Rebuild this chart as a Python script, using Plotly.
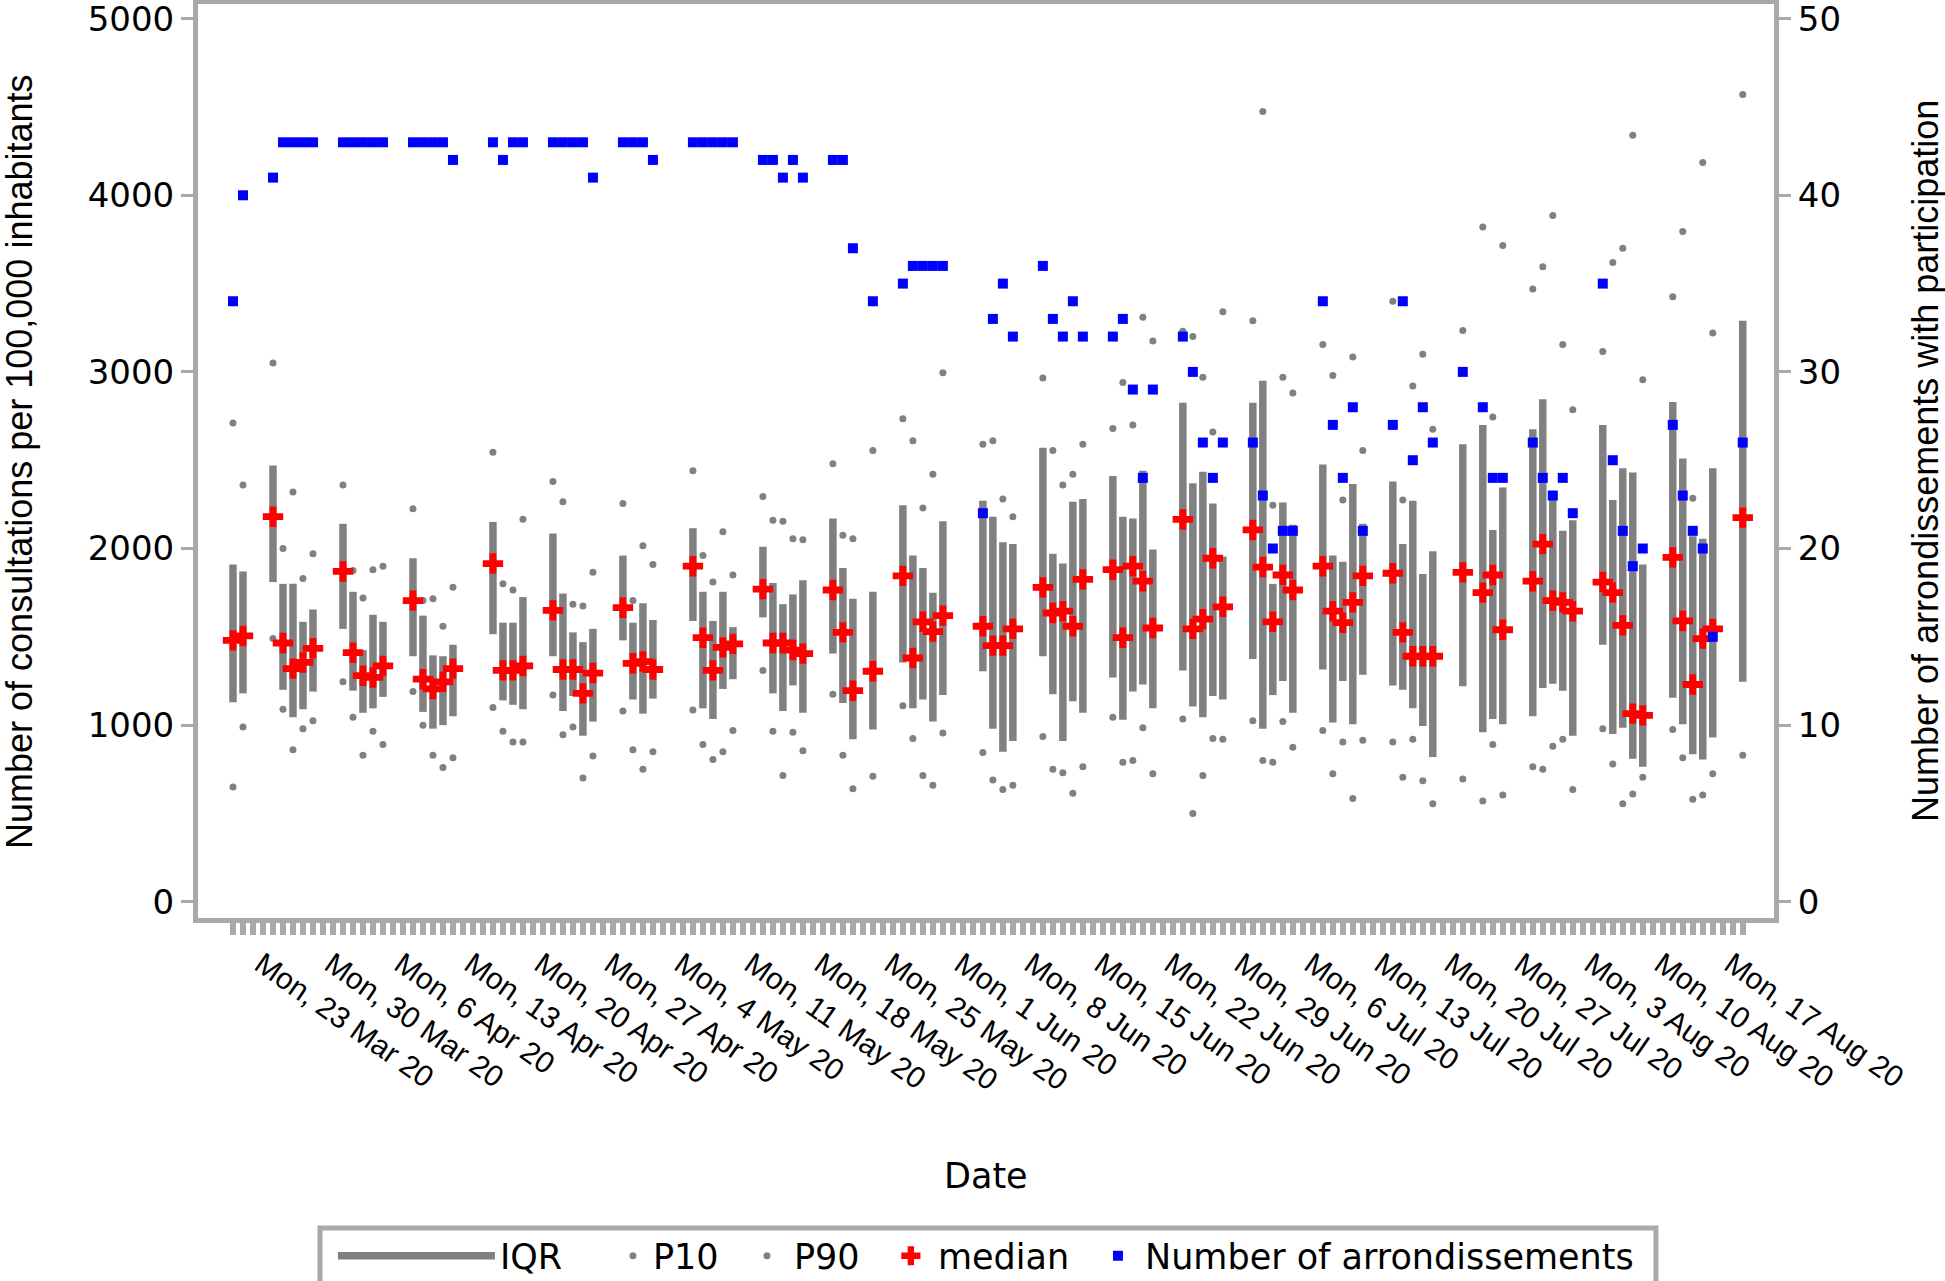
import plotly.graph_objects as go
import pandas as pd

# ---------------- data ----------------
dates = [
    "2020-03-19", "2020-03-20",
    "2020-03-23", "2020-03-24", "2020-03-25", "2020-03-26", "2020-03-27",
    "2020-03-30", "2020-03-31", "2020-04-01", "2020-04-02", "2020-04-03",
    "2020-04-06", "2020-04-07", "2020-04-08", "2020-04-09", "2020-04-10",
    "2020-04-14", "2020-04-15", "2020-04-16", "2020-04-17",
    "2020-04-20", "2020-04-21", "2020-04-22", "2020-04-23", "2020-04-24",
    "2020-04-27", "2020-04-28", "2020-04-29", "2020-04-30",
    "2020-05-04", "2020-05-05", "2020-05-06", "2020-05-07", "2020-05-08",
    "2020-05-11", "2020-05-12", "2020-05-13", "2020-05-14", "2020-05-15",
    "2020-05-18", "2020-05-19", "2020-05-20", "2020-05-22",
    "2020-05-25", "2020-05-26", "2020-05-27", "2020-05-28", "2020-05-29",
    "2020-06-02", "2020-06-03", "2020-06-04", "2020-06-05",
    "2020-06-08", "2020-06-09", "2020-06-10", "2020-06-11", "2020-06-12",
    "2020-06-15", "2020-06-16", "2020-06-17", "2020-06-18", "2020-06-19",
    "2020-06-22", "2020-06-23", "2020-06-24", "2020-06-25", "2020-06-26",
    "2020-06-29", "2020-06-30", "2020-07-01", "2020-07-02", "2020-07-03",
    "2020-07-06", "2020-07-07", "2020-07-08", "2020-07-09", "2020-07-10",
    "2020-07-13", "2020-07-14", "2020-07-15", "2020-07-16", "2020-07-17",
    "2020-07-20", "2020-07-22", "2020-07-23", "2020-07-24",
    "2020-07-27", "2020-07-28", "2020-07-29", "2020-07-30", "2020-07-31",
    "2020-08-03", "2020-08-04", "2020-08-05", "2020-08-06", "2020-08-07",
    "2020-08-10", "2020-08-11", "2020-08-12", "2020-08-13", "2020-08-14",
    "2020-08-17",
]

q1 = [1130, 1180,
      1810, 1200, 1045, 1090, 1190,
      1545, 1195, 1070, 1095, 1160,
      1390, 1075, 980, 1000, 1050,
      1515, 1140, 1115, 1090,
      1390, 1080, 1165, 940, 1020,
      1480, 1145, 1065, 1150,
      1590, 1095, 1035, 1205, 1260,
      1610, 1180, 1080, 1225, 1070,
      1405, 1125, 920, 975,
      1355, 1095, 1145, 1020, 1170,
      1305, 980, 850, 910,
      1390, 1175, 910, 1135, 1070,
      1270, 1030, 1190, 1230, 1095,
      1310, 1105, 1045, 1165, 1145,
      1375, 980, 1170, 1250, 1070,
      1315, 1015, 1250, 1005, 1285,
      1225, 1200, 1095, 995, 820,
      1220, 960, 1035, 1005,
      1050, 1210, 1235, 1195, 940,
      1455, 950, 985, 810, 765,
      1155, 1005, 835, 805, 930,
      1245]

q3 = [1910, 1870,
      2470, 1800, 1800, 1585, 1655,
      2140, 1755, 1425, 1625, 1585,
      1945, 1620, 1395, 1390, 1455,
      2150, 1580, 1580, 1725,
      2085, 1745, 1525, 1470, 1545,
      1960, 1580, 1690, 1595,
      2115, 1755, 1590, 1755, 1555,
      2010, 1805, 1685, 1740, 1820,
      2170, 1890, 1715, 1755,
      2245, 1960, 1890, 1750, 2155,
      2270, 2180, 2035, 2025,
      2570, 1970, 1915, 2265, 2280,
      2410, 2180, 2170, 2440, 1995,
      2825, 2370, 2435, 2255, 1955,
      2825, 2950, 1800, 2260, 2135,
      2475, 1960, 1925, 2365, 2140,
      2380, 2025, 2270, 1855, 1985,
      2590, 2700, 2105, 2345,
      2675, 2845, 2275, 2100, 2160,
      2700, 2275, 2455, 2430, 1910,
      2830, 2510, 2070, 2055, 2455,
      3290]

median = [1480, 1505,
          2180, 1465, 1320, 1355, 1435,
          1870, 1410, 1280, 1270, 1335,
          1705, 1260, 1205, 1245, 1320,
          1915, 1310, 1310, 1335,
          1650, 1315, 1315, 1180, 1295,
          1665, 1350, 1360, 1315,
          1900, 1495, 1310, 1440, 1460,
          1770, 1465, 1465, 1425, 1405,
          1765, 1525, 1195, 1305,
          1845, 1380, 1585, 1530, 1620,
          1560, 1450, 1450, 1545,
          1780, 1635, 1645, 1560, 1825,
          1880, 1495, 1900, 1815, 1550,
          2165, 1545, 1600, 1945, 1670,
          2105, 1895, 1585, 1850, 1765,
          1900, 1645, 1580, 1695, 1845,
          1860, 1525, 1390, 1390, 1390,
          1865, 1750, 1850, 1540,
          1815, 2025, 1705, 1695, 1645,
          1810, 1750, 1565, 1065, 1055,
          1950, 1590, 1230, 1490, 1545,
          2175]

p10 = [650, 990,
       1490, 1090, 860, 980, 1025,
       1245, 1045, 830, 965, 890,
       1190, 1000, 830, 760, 815,
       1100, 965, 905, 905,
       1170, 945, 990, 700, 825,
       1080, 860, 750, 850,
       1085, 890, 805, 850, 970,
       1310, 965, 715, 960, 855,
       1175, 830, 640, 710,
       1110, 925, 715, 660, 955,
       845, 690, 635, 660,
       935, 750, 730, 615, 765,
       1045, 790, 800, 985, 725,
       1035, 500, 715, 925, 920,
       1025, 800, 790, 1020, 875,
       970, 725, 905, 585, 915,
       905, 705, 920, 685, 555,
       695, 570, 890, 605,
       765, 750, 880, 920, 635,
       980, 780, 555, 610, 705,
       975, 815, 580, 605, 725,
       830]

p90 = [2710, 2360,
       3050, 2000, 2320, 1830, 1970,
       2360, 1875, 1720, 1880, 1900,
       2225, 1705, 1715, 1560, 1780,
       2545, 1800, 1765, 2165,
       2380, 2265, 1685, 1675, 1865,
       2255, 1705, 2015, 1910,
       2440, 1960, 1810, 2095, 1850,
       2295, 2160, 2155, 2055, 2050,
       2480, 2075, 2055, 2555,
       2735, 2610, 2230, 2420, 2995,
       2590, 2610, 2280, 2180,
       2965, 2555, 2360, 2420, 2590,
       2680, 2940, 2700, 3310, 3175,
       3230, 3200, 2970, 2660, 3340,
       3290, 4475, 2245, 2970, 2880,
       3155, 2980, 2275, 3085, 2555,
       3400, 2275, 2920, 3100, 2675,
       3235, 3820, 2745, 3715,
       3470, 3595, 3885, 3155, 2785,
       3115, 3620, 3700, 4340, 2955,
       3425, 3795, 2285, 4185, 3220,
       4570]

n_arrondissements = [34, 40,
                     41, 43, 43, 43, 43,
                     43, 43, 43, 43, 43,
                     43, 43, 43, 43, 42,
                     43, 42, 43, 43,
                     43, 43, 43, 43, 41,
                     43, 43, 43, 42,
                     43, 43, 43, 43, 43,
                     42, 42, 41, 42, 41,
                     42, 42, 37, 34,
                     35, 36, 36, 36, 36,
                     22, 33, 35, 32,
                     36, 33, 32, 34, 32,
                     32, 33, 29, 24, 29,
                     32, 30, 26, 24, 26,
                     26, 23, 20, 21, 21,
                     34, 27, 24, 28, 21,
                     27, 34, 25, 28, 26,
                     30, 28, 24, 24,
                     26, 24, 23, 24, 22,
                     35, 25, 21, 19, 20,
                     27, 23, 21, 20, 15,
                     26]

monday_dates = ["2020-03-23", "2020-03-30", "2020-04-06", "2020-04-13", "2020-04-20",
                "2020-04-27", "2020-05-04", "2020-05-11", "2020-05-18", "2020-05-25",
                "2020-06-01", "2020-06-08", "2020-06-15", "2020-06-22", "2020-06-29",
                "2020-07-06", "2020-07-13", "2020-07-20", "2020-07-27", "2020-08-03",
                "2020-08-10", "2020-08-17"]
monday_labels = ["Mon, 23 Mar 20", "Mon, 30 Mar 20", "Mon, 6 Apr 20", "Mon, 13 Apr 20",
                 "Mon, 20 Apr 20", "Mon, 27 Apr 20", "Mon, 4 May 20", "Mon, 11 May 20",
                 "Mon, 18 May 20", "Mon, 25 May 20", "Mon, 1 Jun 20", "Mon, 8 Jun 20",
                 "Mon, 15 Jun 20", "Mon, 22 Jun 20", "Mon, 29 Jun 20", "Mon, 6 Jul 20",
                 "Mon, 13 Jul 20", "Mon, 20 Jul 20", "Mon, 27 Jul 20", "Mon, 3 Aug 20",
                 "Mon, 10 Aug 20", "Mon, 17 Aug 20"]
left_ticks = [0, 1000, 2000, 3000, 4000, 5000]
right_ticks = [0, 10, 20, 30, 40, 50]

# ---------------- styles ----------------
GRAY = "#808080"
FRAME = "#A9A9A9"
WIDE = "DejaVu Sans, Verdana, sans-serif"
ARIAL = "Arial, 'Liberation Sans', sans-serif"

iqr_x, iqr_y = [], []
for d, lo, hi in zip(dates, q1, q3):
    iqr_x += [d, d, None]
    iqr_y += [lo, hi, None]

fig = go.Figure()
fig.add_trace(go.Scatter(x=iqr_x, y=iqr_y, mode="lines", name="IQR", legend="legend",
                         line=dict(color=GRAY, width=7.5)))
fig.add_trace(go.Scatter(x=dates, y=p10, mode="markers", name="P10", legend="legend2",
                         marker=dict(color=GRAY, size=7)))
fig.add_trace(go.Scatter(x=dates, y=p90, mode="markers", name="P90", legend="legend3",
                         marker=dict(color=GRAY, size=7)))
fig.add_trace(go.Scatter(x=dates, y=median, mode="markers", name="median", legend="legend4",
                         marker=dict(color="#FF0000", size=17, symbol="cross")))
fig.add_trace(go.Scatter(x=dates, y=n_arrondissements, mode="markers",
                         name="Number of arrondissements", yaxis="y2", legend="legend5",
                         marker=dict(color="#0000FF", size=10, symbol="square")))

all_days = pd.date_range("2020-03-19", "2020-08-17", freq="D").strftime("%Y-%m-%d").tolist()
label_map = dict(zip(monday_dates, monday_labels))
ticktext = [label_map.get(d, "") for d in all_days]

LEG_Y = -0.3698


def leg(x, width):
    return dict(orientation="h", x=x, xanchor="left", y=LEG_Y, yanchor="middle",
                borderwidth=0, bgcolor="rgba(0,0,0,0)", itemwidth=width,
                font=dict(family=WIDE, size=35, color="black"))


fig.update_layout(
    width=1945, height=1281, template="none",
    paper_bgcolor="white", plot_bgcolor="white",
    font=dict(family=WIDE, size=34, color="black"),
    margin=dict(l=198, r=171, t=4, b=363, autoexpand=False),
    showlegend=True,
    legend=leg(0.0856, 157),
    legend2=leg(0.2633, 30),
    legend3=leg(0.3439, 44),
    legend4=leg(0.4352, 44),
    legend5=leg(0.5666, 44),
    xaxis=dict(type="date", range=["2020-03-15 12:00", "2020-08-20 03:00"],
               tickmode="array", tickvals=all_days, ticktext=ticktext, tickangle=35,
               ticks="outside", ticklen=12, tickwidth=6, tickcolor=FRAME,
               showline=True, linecolor=FRAME, linewidth=5, mirror=True,
               showgrid=False, zeroline=False, automargin=False,
               ticklabelshift=-12, ticklabeloverflow="allow",
               tickfont=dict(family=ARIAL, size=30)),
    yaxis=dict(range=[-92, 5083], tickmode="array", tickvals=left_ticks,
               ticks="outside", ticklen=12, tickwidth=3, tickcolor=FRAME,
               showline=True, linecolor=FRAME, linewidth=5, mirror=False,
               showgrid=False, zeroline=False, automargin=False,
               ticklabeloverflow="allow",
               tickfont=dict(family=WIDE, size=34)),
    yaxis2=dict(range=[-0.92, 50.83], overlaying="y", side="right",
                tickmode="array", tickvals=right_ticks,
                ticks="outside", ticklen=12, tickwidth=3, tickcolor=FRAME,
                showline=True, linecolor=FRAME, linewidth=5,
                showgrid=False, zeroline=False, automargin=False,
                ticklabeloverflow="allow",
                tickfont=dict(family=WIDE, size=34)),
    shapes=[dict(type="rect", xref="paper", yref="paper", x0=0.0774, x1=0.9251,
                 y0=-0.45, y1=-0.3392, line=dict(color=FRAME, width=5),
                 fillcolor="rgba(0,0,0,0)", layer="above")],
    annotations=[
        dict(text="Date", xref="paper", yref="paper", x=0.5, y=-0.282,
             xanchor="center", yanchor="middle", showarrow=False,
             font=dict(family=WIDE, size=35)),
        dict(text="Number of consultations per 100,000 inhabitants", xref="paper", yref="paper",
             x=-0.1136, y=0.5, xanchor="center", yanchor="middle", textangle=-90,
             showarrow=False, font=dict(family=ARIAL, size=36)),
        dict(text="Number of arrondissements with participation", xref="paper", yref="paper",
             x=1.0958, y=0.5, xanchor="center", yanchor="middle", textangle=-90,
             showarrow=False, font=dict(family=ARIAL, size=36)),
    ],
)

fig.write_html("out.html", config={"displayModeBar": False},
               post_script="document.body.style.margin='0';")
